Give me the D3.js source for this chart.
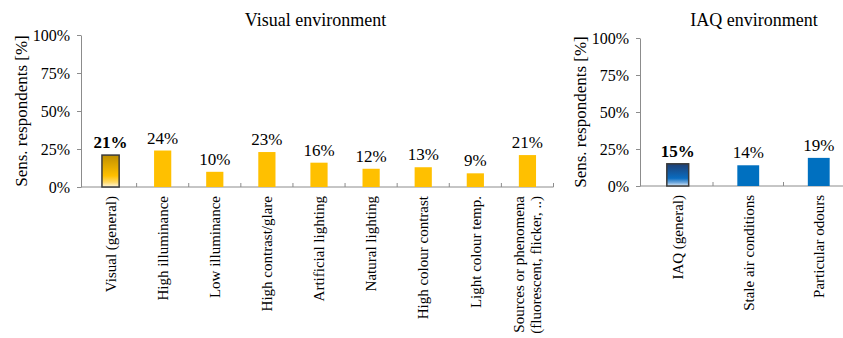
<!DOCTYPE html>
<html lang="en">
<head>
    <meta charset="UTF-8">
    <title>Sensitive respondents</title>
    <script src="https://d3js.org/d3.v7.min.js"></script>
    <style>
        body { margin: 0; background: #fff; font-family: "Liberation Serif", "Times New Roman", serif; }
        .axis path, .axis line { stroke: #8c8c8c; }
        .axis text { font-family: "Liberation Serif", serif; font-size: 16px; fill: #000; }
    </style>
</head>
<body>
    <div id="chart"></div>
    <script>
        // Visual environment
        const visualCats = ["Visual (general)", "High illuminance", "Low illuminance", "High contrast/glare",
            "Artificial lighting", "Natural lighting", "High colour contrast", "Light colour temp.",
            "Sources or phenomena\n(fluorescent, flicker, ..)"];
        const visualVals = [21, 24, 10, 23, 16, 12, 13, 9, 21];

        // IAQ environment
        const iaqCats = ["IAQ (general)", "Stale air conditions", "Particular odours"];
        const iaqVals = [15, 14, 19];

        const yTicks = [0, 25, 50, 75, 100];

        const W = 843, H = 338;
        const svg = d3.select("#chart").append("svg")
            .attr("width", W).attr("height", H);

        const defs = svg.append("defs");
        const gold = defs.append("linearGradient").attr("id", "gGold")
            .attr("x1", 0).attr("y1", 0).attr("x2", 0).attr("y2", 1);
        gold.append("stop").attr("offset", "0%").attr("stop-color", "#bf8f00");
        gold.append("stop").attr("offset", "65%").attr("stop-color", "#ffc000");
        gold.append("stop").attr("offset", "85%").attr("stop-color", "#ffd966");
        gold.append("stop").attr("offset", "100%").attr("stop-color", "#fff7e0");
        const blue = defs.append("linearGradient").attr("id", "gBlue")
            .attr("x1", 0).attr("y1", 0).attr("x2", 0).attr("y2", 1);
        blue.append("stop").attr("offset", "0%").attr("stop-color", "#1f3f73");
        blue.append("stop").attr("offset", "65%").attr("stop-color", "#0a6cc0");
        blue.append("stop").attr("offset", "85%").attr("stop-color", "#6fa8dc");
        blue.append("stop").attr("offset", "100%").attr("stop-color", "#deebf7");

        function panel(opts) {
            const { cats, vals, axisX, xr, y0, y1, pad, color, grad, title, titleX, ylabX } = opts;
            const g = svg.append("g");

            const x = d3.scaleBand().domain(cats).range(xr)
                .paddingInner(pad).paddingOuter(pad / 2);
            const y = d3.scaleLinear().domain([0, 100]).range([y0, y1]);

            // y axis
            g.append("g").attr("class", "axis")
                .attr("transform", `translate(${axisX},0)`)
                .call(d3.axisLeft(y).tickValues(yTicks).tickFormat(d => d + "%")
                    .tickSizeInner(4).tickSizeOuter(0).tickPadding(7));

            // x axis line + inner ticks at band boundaries
            const xa = g.append("g").attr("class", "axis");
            xa.append("line")
                .attr("x1", axisX).attr("x2", xr[1]).attr("y1", y(0)).attr("y2", y(0));
            d3.range(1, cats.length + 1).forEach(i => {
                const tx = xr[0] + i * x.step();
                xa.append("line").attr("x1", tx).attr("x2", tx)
                    .attr("y1", y(0)).attr("y2", y(0) - 4);
            });

            // bars
            g.selectAll("rect.bar").data(vals).join("rect")
                .attr("class", "bar")
                .attr("x", (d, i) => x(cats[i]))
                .attr("y", d => y(d))
                .attr("width", x.bandwidth())
                .attr("height", d => y(0) - y(d))
                .attr("fill", (d, i) => i === 0 ? `url(#${grad})` : color)
                .attr("stroke", (d, i) => i === 0 ? "#3a3a3a" : "none")
                .attr("stroke-width", 1.5);

            // value labels
            g.selectAll("text.val").data(vals).join("text")
                .attr("class", "val")
                .attr("x", (d, i) => x(cats[i]) + x.bandwidth() / 2)
                .attr("y", d => y(d) - 7)
                .attr("text-anchor", "middle")
                .style("font-size", "17px")
                .style("font-weight", (d, i) => i === 0 ? "bold" : "normal")
                .text(d => d + "%");

            // category labels (rotated)
            cats.forEach(c => {
                const lines = c.split("\n");
                const t = g.append("text")
                    .attr("transform", `translate(${x(c) + x.bandwidth() / 2},${y(0) + 9}) rotate(-90)`)
                    .attr("text-anchor", "end")
                    .style("font-size", "15px");
                lines.forEach((l, i) => {
                    t.append("tspan").attr("x", 0)
                        .attr("dy", i === 0 ? (0.35 - (lines.length - 1) * 0.55) + "em" : "1.1em")
                        .text(l);
                });
            });

            // title
            g.append("text").attr("x", titleX).attr("y", 26)
                .attr("text-anchor", "middle").style("font-size", "18px").text(title);

            // y label
            g.append("text")
                .attr("transform", `translate(${ylabX},${(y0 + y1) / 2}) rotate(-90)`)
                .attr("text-anchor", "middle").attr("dy", "0.35em")
                .style("font-size", "17px").text("Sens. respondents [%]");
        }

        panel({
            cats: visualCats, vals: visualVals, axisX: 81, xr: [84.5, 553.5], y0: 187, y1: 35,
            pad: 0.67, color: "#ffc000", grad: "gGold", title: "Visual environment",
            titleX: 315.5, ylabX: 21.5
        });
        panel({
            cats: iaqCats, vals: iaqVals, axisX: 640, xr: [642.5, 854], y0: 186, y1: 38,
            pad: 0.69, color: "#0070c0", grad: "gBlue", title: "IAQ environment",
            titleX: 754, ylabX: 580
        });
    </script>
</body>
</html>
